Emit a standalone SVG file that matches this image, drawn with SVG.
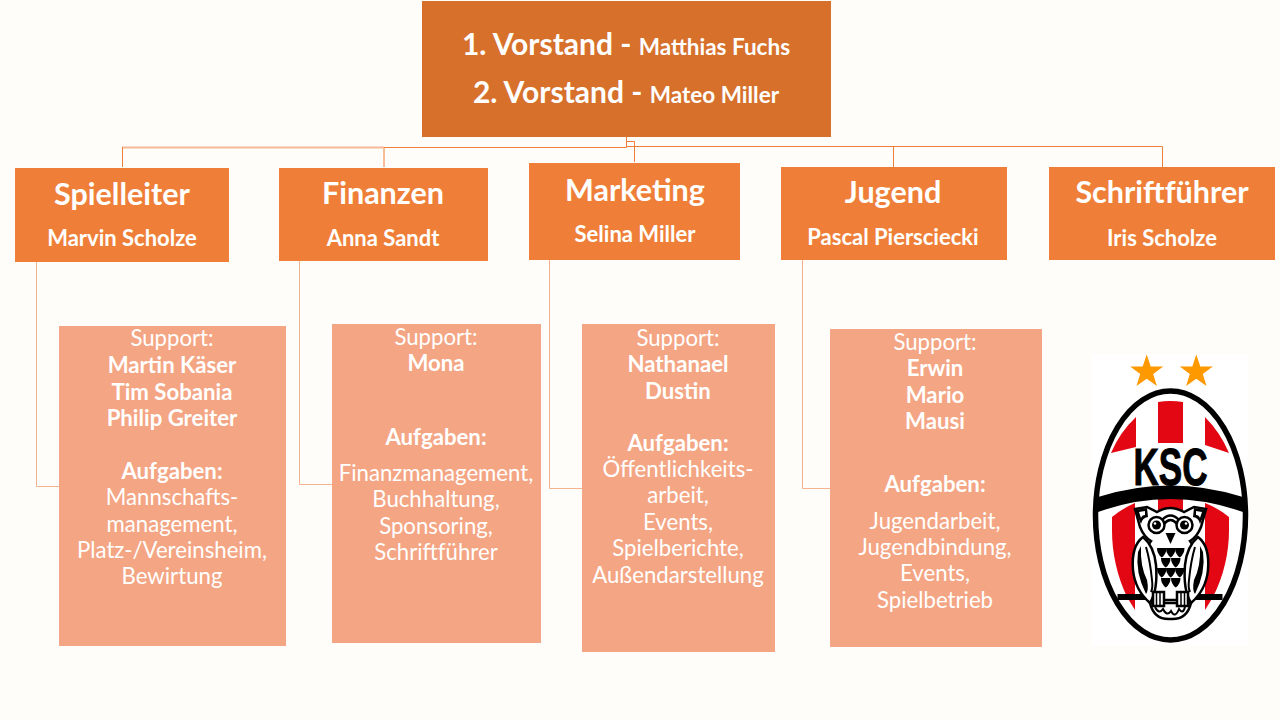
<svg xmlns="http://www.w3.org/2000/svg" width="1280" height="720" viewBox="0 0 1280 720">
<style>
text{font-family:"Lato","Open Sans","Liberation Sans",sans-serif;fill:#fff;text-anchor:middle}
.top{fill:#d6702b}.head{fill:#ef7f38}.sup{fill:#f4a583}
.big{font-size:30px;font-weight:700}.mid{font-size:22.500px;font-weight:700}
.t{font-size:30.500px;font-weight:700}.n{font-size:22px;font-weight:700}
.r{font-size:22.200px}.b{font-size:22.200px;font-weight:700}
.c{fill:none;stroke:#ef7f38;stroke-width:1}
.e{fill:none;stroke:#f3b48d;stroke-width:1}
.k{fill:#000}.red{fill:#e30613}
.ol{stroke:#000;stroke-width:2.500;fill:#fff}
</style>
<defs>
<path id="sh" d="M0 0h9.500q0 6-4.750 9.500q-4.750-3.500-4.750-9.500z" fill="#000"/>
<g id="wing">
<path class="ol" d="M1143 537Q1131 546 1133 570Q1135 590 1150 603Q1158 590 1156 565Q1154 546 1143 537z"/>
<path d="M1138 552Q1135 572 1146 594Q1149 590 1147 580Q1140 566 1141 546z" fill="#000"/>
<path d="M1146 547Q1150 560 1152 580Q1153 588 1151 592" fill="none" stroke="#000" stroke-width="2"/>
<path d="M1135 510L1147 508L1148 517Q1142 518 1141 524z" fill="#000"/>
<path d="M1139 512L1145 511L1145 515Q1142 515 1141 518z" fill="#fff"/>
<circle class="ol" cx="1156.500" cy="525" r="8"/>
<circle class="k" cx="1156.500" cy="525" r="4.500"/>
<circle cx="1155" cy="523.500" r="1.300" fill="#fff"/>
<path d="M1153 592h11v14h-11z" class="ol"/>
<path d="M1156.500 593v12M1160 593v12" stroke="#000" stroke-width="1.500"/>
</g>
</defs>
<rect width="1280" height="720" fill="#fefdfa"/>
<g id="connectors">
<path class="c" d="M626.500 137V147.500H384M626.500 141.500H634.500V162M626.500 146.500H1162.500V167M384 147.500V167"/>
<path d="M122 147.500H384" fill="none" stroke="#f4b996" stroke-width="2"/>
<path class="c" d="M122.500 147V167M893.500 146.500V167"/>
<path class="e" d="M36.500 262V486.500H59M299.500 261V484.500H332M549.500 260V488.500H582M802.500 260V488.500H830"/>
</g>
<g id="vorstand">
<rect class="top" x="422" y="1" width="409" height="136"/>
<text x="626" y="55"><tspan class="big">1. Vorstand - </tspan><tspan class="mid">Matthias Fuchs</tspan></text>
<text x="626" y="103"><tspan class="big">2. Vorstand - </tspan><tspan class="mid">Mateo Miller</tspan></text>
</g>
<g id="spielleiter">
<rect class="head" x="15" y="168" width="214" height="94"/>
<text class="t" x="122" y="205">Spielleiter</text>
<text class="n" x="122" y="246">Marvin Scholze</text>
</g>
<g id="finanzen">
<rect class="head" x="279" y="168" width="209" height="93"/>
<text class="t" x="383" y="204">Finanzen</text>
<text class="n" x="383" y="246">Anna Sandt</text>
</g>
<g id="marketing">
<rect class="head" x="529" y="163" width="211" height="97"/>
<text class="t" x="635" y="201">Marketing</text>
<text class="n" x="635" y="242">Selina Miller</text>
</g>
<g id="jugend">
<rect class="head" x="781" y="167" width="226" height="93"/>
<text class="t" x="893" y="203">Jugend</text>
<text class="n" x="893" y="245">Pascal Pierscie<tspan>cki</tspan></text>
</g>
<g id="schriftfuehrer">
<rect class="head" x="1049" y="167" width="226" height="93"/>
<text class="t" x="1162" y="203">Schriftführer</text>
<text class="n" x="1162" y="246">Iris Scholze</text>
</g>
<g id="support-spielleiter">
<rect class="sup" x="59" y="326" width="227" height="320"/>
<text class="r" x="172" y="346">Support:</text>
<text class="b" x="172" y="373">Martin Käser</text>
<text class="b" x="172" y="400">Tim Sobania</text>
<text class="b" x="172" y="426">Philip Greiter</text>
<text class="b" x="172" y="479">Aufgaben:</text>
<text class="r" x="172" y="505">Mannschafts-</text>
<text class="r" x="172" y="532">management,</text>
<text class="r" x="172" y="558">Platz-/Vereinsheim,</text>
<text class="r" x="172" y="584">Bewirtung</text>
</g>
<g id="support-finanzen">
<rect class="sup" x="332" y="324" width="209" height="319"/>
<text class="r" x="436" y="345">Support:</text>
<text class="b" x="436" y="371">Mona</text>
<text class="b" x="436" y="445">Aufgaben:</text>
<text class="r" x="436" y="481">Finanzmanagement,</text>
<text class="r" x="436" y="507">Buchhaltung,</text>
<text class="r" x="436" y="534">Sponsoring,</text>
<text class="r" x="436" y="560">Schriftführer</text>
</g>
<g id="support-marketing">
<rect class="sup" x="582" y="324" width="193" height="328"/>
<text class="r" x="678" y="346">Support:</text>
<text class="b" x="678" y="372">Nathanael</text>
<text class="b" x="678" y="399">Dustin</text>
<text class="b" x="678" y="451">Aufgaben:</text>
<text class="r" x="678" y="477">Öffentlichkeits-</text>
<text class="r" x="678" y="503">arbeit,</text>
<text class="r" x="678" y="530">Events,</text>
<text class="r" x="678" y="556">Spielberichte,</text>
<text class="r" x="678" y="583">Außendarstellung</text>
</g>
<g id="support-jugend">
<rect class="sup" x="830" y="329" width="212" height="318"/>
<text class="r" x="935" y="350">Support:</text>
<text class="b" x="935" y="376">Erwin</text>
<text class="b" x="935" y="403">Mario</text>
<text class="b" x="935" y="429">Mausi</text>
<text class="b" x="935" y="492">Aufgaben:</text>
<text class="r" x="935" y="529">Jugendarbeit,</text>
<text class="r" x="935" y="555">Jugendbindung,</text>
<text class="r" x="935" y="581">Events,</text>
<text class="r" x="935" y="608">Spielbetrieb</text>
</g>
<g id="logo">
<rect x="1092" y="355" width="156" height="290" fill="#fff"/>
<path d="M1146.700 354.500l4 12h12.500l-10 7.500 3.700 12-10.200-7.300-10.200 7.300 3.700-12-10-7.500h12.500z" fill="#f90"/>
<path d="M1196.300 354.500l4 12h12.500l-10 7.500 3.700 12-10.200-7.300-10.200 7.300 3.700-12-10-7.500h12.500z" fill="#f90"/>
<ellipse cx="1170.500" cy="515.500" rx="75" ry="124.500" fill="#fff" stroke="#000" stroke-width="5.500"/>
<path class="red" d="M1158 402Q1170 400 1183 402V443H1158zM1136 417V447L1111 453Q1120 432 1136 417zM1205 417V445L1229 453Q1220 432 1205 417z"/>
<path class="red" d="M1158 498Q1170 495 1183 498V510H1158zM1112 517Q1123 508 1135 503V610L1127 597Q1112 565 1112 530zM1229 517Q1218 508 1205 503V610L1213 597Q1229 565 1229 530z"/>
<text x="1170.500" y="485" style="font-family:'Liberation Sans',sans-serif;font-size:51px;font-weight:700;fill:#000;stroke:#000;stroke-width:1" textLength="74" lengthAdjust="spacingAndGlyphs">KSC</text>
<path class="k" d="M1098 497Q1170 474 1243 497V512Q1170 486 1098 512z"/>
<rect class="k" x="1117.500" y="594" width="105" height="6"/>
<path class="ol" d="M1150 603Q1154 620 1170.500 619Q1187 620 1191 603z"/>
<path d="M1155 607q4 8 8 2q4 8 8 2q4 8 8 -2q4 6 6 -2" fill="none" stroke="#000" stroke-width="2"/>
<path class="ol" d="M1135 509L1147 507L1157 512Q1170 504 1184 512L1194 507L1206 509L1201 527Q1197 537 1190 541Q1205 560 1190 600H1151Q1136 560 1151 541Q1144 537 1140 527z"/>
<use href="#wing"/>
<use href="#wing" transform="matrix(-1 0 0 1 2341 0)"/>
<path d="M1162 520Q1170.500 511 1179 520M1164 524Q1170.500 516 1177 524" fill="none" stroke="#000" stroke-width="2.500"/>
<path class="k" d="M1165.500 533H1175.500L1170.500 544z"/>
<use href="#sh" x="1157" y="548"/><use href="#sh" x="1166" y="548"/><use href="#sh" x="1175" y="548"/>
<use href="#sh" x="1161" y="558"/><use href="#sh" x="1171" y="558"/>
<use href="#sh" x="1157" y="568"/><use href="#sh" x="1166" y="568"/><use href="#sh" x="1175" y="568"/>
<use href="#sh" x="1161" y="578"/><use href="#sh" x="1171" y="578"/>
</g>
</svg>
